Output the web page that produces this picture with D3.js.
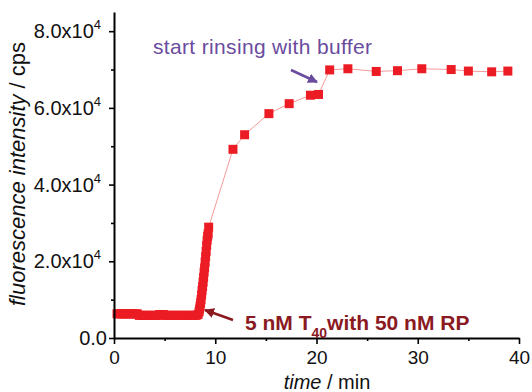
<!DOCTYPE html>
<html>
<head>
<meta charset="utf-8">
<script src="https://cdn.jsdelivr.net/npm/d3@7/dist/d3.min.js"></script>
<style>
  body { margin: 0; background: #fff; }
  text { font-family: "Liberation Sans", Arial, sans-serif; }
</style>
</head>
<body>
<svg id="chart" width="532" height="392"></svg>
<script>
// Fluorescence time course (minutes, counts per second)
const timeMin = [
  0.3, 0.5, 0.7, 0.9, 1.1, 1.3, 1.5, 1.7, 1.9, 2.1, 2.3,
  2.5, 2.7, 2.9, 3.1, 3.3, 3.5, 3.7, 3.9, 4.1, 4.3,
  4.5, 4.7, 4.9,
  5.1, 5.3, 5.5, 5.7, 5.9, 6.1, 6.3, 6.5, 6.7, 6.9, 7.1, 7.3, 7.5, 7.7, 7.9, 8.1, 8.3,
  8.4, 8.45, 8.5, 8.55, 8.6, 8.65, 8.7, 8.75, 8.8, 8.85, 8.9, 8.95,
  9.0, 9.05, 9.1, 9.15, 9.2, 9.25, 9.3, 9.35,
  11.75, 12.9, 15.3, 17.3, 19.4, 20.2,
  21.3, 23.1, 25.9, 28.0, 30.4, 33.3, 35.0, 37.3, 38.9
];
const intensity = [
  6300, 6300, 6300, 6300, 6300, 6300, 6300, 6300, 6300, 6300, 6300,
  5900, 5900, 5900, 5900, 5900, 5900, 5900, 5900, 5900, 5900,
  6100, 6100, 6100,
  5900, 5900, 5900, 5900, 5900, 5900, 5900, 5900, 5900, 5900, 5900, 5900, 5900, 5900, 5900, 5900, 6100,
  6800, 7500, 8300, 9100, 10000, 11200, 12400, 13400, 14600, 15800, 17200, 18300,
  19800, 21200, 22600, 24100, 25500, 26500, 27200, 28900,
  49200, 53000, 58500, 61100, 63300, 63500,
  69900, 70200, 69500, 69700, 70200, 70000, 69600, 69400, 69600
];

const xTicks = [0, 10, 20, 30, 40];
const xMinorTicks = [5, 15, 25, 35];
const yTicks = [0, 20000, 40000, 60000, 80000];
const yMinorTicks = [10000, 30000, 50000, 70000];
const yTickMantissa = ["0.0", "2.0x10", "4.0x10", "6.0x10", "8.0x10"];
const yTickExponent = ["", "4", "4", "4", "4"];

const svg = d3.select("#chart");
const plotLeft = 114, plotRight = 519, plotTop = 12, plotBottom = 338;

const x = d3.scaleLinear().domain([0, 40]).range([plotLeft, plotRight]);
const y = d3.scaleLinear().domain([0, 85000]).range([plotBottom, plotTop]);

const points = timeMin.map((t, i) => ({ t, v: intensity[i] }));

// connecting line
svg.append("path")
  .datum(points)
  .attr("fill", "none")
  .attr("stroke", "#f49a9a")
  .attr("stroke-width", 1)
  .attr("d", d3.line().x(d => x(d.t)).y(d => y(d.v)));

// square markers
const ms = 9;
svg.append("g").selectAll("rect")
  .data(points)
  .join("rect")
  .attr("x", d => x(d.t) - ms / 2)
  .attr("y", d => y(d.v) - ms / 2)
  .attr("width", ms)
  .attr("height", ms)
  .attr("fill", "#ec1c24");

// axes
const axisColor = "#000";
const xAxis = svg.append("g").attr("transform", `translate(0,${plotBottom})`)
  .call(d3.axisBottom(x).tickValues(xTicks).tickSize(6).tickSizeOuter(0).tickFormat(d3.format("d")));
svg.append("g").attr("transform", `translate(0,${plotBottom})`)
  .call(d3.axisBottom(x).tickValues(xMinorTicks).tickSize(3).tickSizeOuter(0).tickFormat(""))
  .select(".domain").remove();
xAxis.selectAll("text")
  .attr("y", 0).attr("dy", null)
  .attr("transform", "translate(0,26)")
  .attr("font-size", 19).attr("fill", "#111");

svg.append("g").attr("transform", `translate(${plotLeft},0)`)
  .call(d3.axisLeft(y).tickValues(yTicks).tickSize(5).tickSizeOuter(0).tickFormat(""));
svg.append("g").attr("transform", `translate(${plotLeft},0)`)
  .call(d3.axisLeft(y).tickValues(yMinorTicks).tickSize(3).tickSizeOuter(0).tickFormat(""))
  .select(".domain").remove();

svg.selectAll(".domain").attr("stroke", axisColor).attr("stroke-width", 2);
svg.selectAll(".tick line").attr("stroke", axisColor).attr("stroke-width", 1.6);

// y tick labels with superscript exponent
const yLab = svg.append("g");
yTicks.forEach((v, i) => {
  const t = yLab.append("text")
    .attr("x", yTickExponent[i] ? 101 : 107)
    .attr("y", y(v) + 7)
    .attr("text-anchor", "end")
    .attr("font-size", 20)
    .attr("fill", "#111");
  t.append("tspan").text(yTickMantissa[i]);
  if (yTickExponent[i]) {
    t.append("tspan").attr("dy", -9).attr("font-size", 13).text(yTickExponent[i]);
  }
});

// axis titles
const xt = svg.append("text")
  .attr("x", 327).attr("y", 389)
  .attr("text-anchor", "middle")
  .attr("font-size", 20).attr("fill", "#111");
xt.append("tspan").attr("font-style", "italic").text("time");
xt.append("tspan").text(" / min");

const yt = svg.append("text")
  .attr("transform", "translate(25,174) rotate(-90)")
  .attr("text-anchor", "middle")
  .attr("font-size", 22).attr("fill", "#111");
yt.append("tspan").attr("font-style", "italic").text("fluorescence intensity");
yt.append("tspan").text(" / cps");

// annotations
const defs = svg.append("defs");
function marker(id, color) {
  defs.append("marker")
    .attr("id", id).attr("viewBox", "0 0 10 10")
    .attr("refX", 9).attr("refY", 5)
    .attr("markerWidth", 4).attr("markerHeight", 4)
    .attr("markerUnits", "strokeWidth")
    .attr("orient", "auto")
    .append("path").attr("d", "M0,0 L10,5 L0,10 z").attr("fill", color);
}
const purple = "#6a4c9e", darkRed = "#8a1a1f";
marker("arrP", purple);
marker("arrR", darkRed);

svg.append("text")
  .attr("x", 153).attr("y", 54)
  .attr("font-size", 21).attr("fill", purple)
  .attr("textLength", 219).attr("lengthAdjust", "spacing")
  .text("start rinsing with buffer");
svg.append("line")
  .attr("x1", 291).attr("y1", 70).attr("x2", 317).attr("y2", 82)
  .attr("stroke", purple).attr("stroke-width", 2.5)
  .attr("marker-end", "url(#arrP)");

const rt = svg.append("text")
  .attr("x", 245).attr("y", 330)
  .attr("font-size", 21).attr("font-weight", "bold").attr("fill", darkRed);
rt.append("tspan").text("5 nM T");
rt.append("tspan").attr("dy", 8).attr("font-size", 14).text("40");
rt.append("tspan").attr("dy", -8).text("with 50 nM RP");
svg.append("line")
  .attr("x1", 233).attr("y1", 320).attr("x2", 205).attr("y2", 310)
  .attr("stroke", darkRed).attr("stroke-width", 2.5)
  .attr("marker-end", "url(#arrR)");
</script>
</body>
</html>
